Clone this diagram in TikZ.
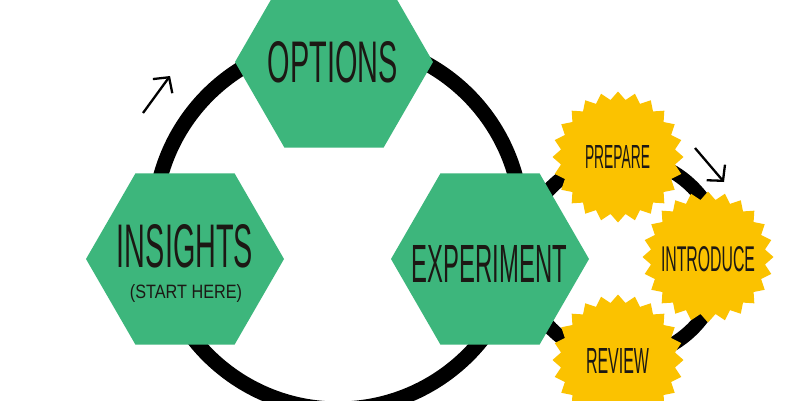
\documentclass[tikz,border=0pt]{standalone}
\usepackage{fontspec}
\setmainfont{Liberation Sans}
\usepackage{graphicx}
\usetikzlibrary{shapes.geometric,arrows.meta}
\definecolor{hexgreen}{RGB}{61,182,124}
\definecolor{staryellow}{RGB}{251,194,0}
\definecolor{inkdark}{RGB}{28,24,20}
\tikzset{
  hexa/.style={regular polygon, regular polygon sides=6, minimum size=198pt, inner sep=0pt, fill=hexgreen, draw=none},
  burst/.style={star, star points=24, star point ratio=1.14, minimum size=131pt, inner sep=0pt, fill=staryellow, draw=none},
  txt/.style={inner sep=0pt, text=inkdark},
  cycle ring/.style={draw=black, line width=15pt},
  small ring/.style={draw=black, line width=14pt},
  flowarrow/.style={draw=black, line width=2.3pt, -{Straight Barb[length=11pt,width=24pt,line width=2.3pt]}}
}
\begin{document}
\begin{tikzpicture}[x=1pt,y=-1pt]
\useasboundingbox (0,0) rectangle (800,400);
\clip (0,0) rectangle (800,400);
\fill[white] (0,0) rectangle (800,400);
% rings
\coordinate (bigc) at (338,225);
\coordinate (smallc) at (622,258);
\draw[cycle ring] (bigc) circle[radius=184];
\draw[small ring] (smallc) circle[radius=100];
% hexagons
\node[hexa] (opt) at (334,62) {};
\node[hexa] (ins) at (185,259) {};
\node[hexa] (exp) at (490,259) {};
% stars
\node[burst] (prep) at (618,157) {};
\node[burst] (intro) at (708,257) {};
\node[burst] (rev) at (618,360) {};
% texts
\node[txt] (optT) at (333,62.5) {\resizebox{130pt}{41pt}{OPTIONS}};
\node[txt] (insT) at (185,246.5) {\resizebox{136pt}{43pt}{INSIGHTS}};
\node[txt] (insS) at (186,293.5) {\resizebox*{112pt}{18pt}{(START HERE)}};
\node[txt] (expT) at (489.5,263.5) {\resizebox{155pt}{37pt}{EXPERIMENT}};
\node[txt] (prepT) at (617.5,156.5) {\resizebox{65pt}{23pt}{PREPARE}};
\node[txt] (introT) at (708,259.5) {\resizebox{94pt}{25pt}{INTRODUCE}};
\node[txt] (revT) at (617.5,360.5) {\resizebox{63pt}{25pt}{REVIEW}};
% small arrows
\coordinate (a1s) at (143,113);
\coordinate (a1e) at (170,76);
\draw[flowarrow] (a1s) -- (a1e);
\coordinate (a2s) at (695,148);
\coordinate (a2e) at (724,182);
\draw[flowarrow] (a2s) -- (a2e);
\end{tikzpicture}
\end{document}
